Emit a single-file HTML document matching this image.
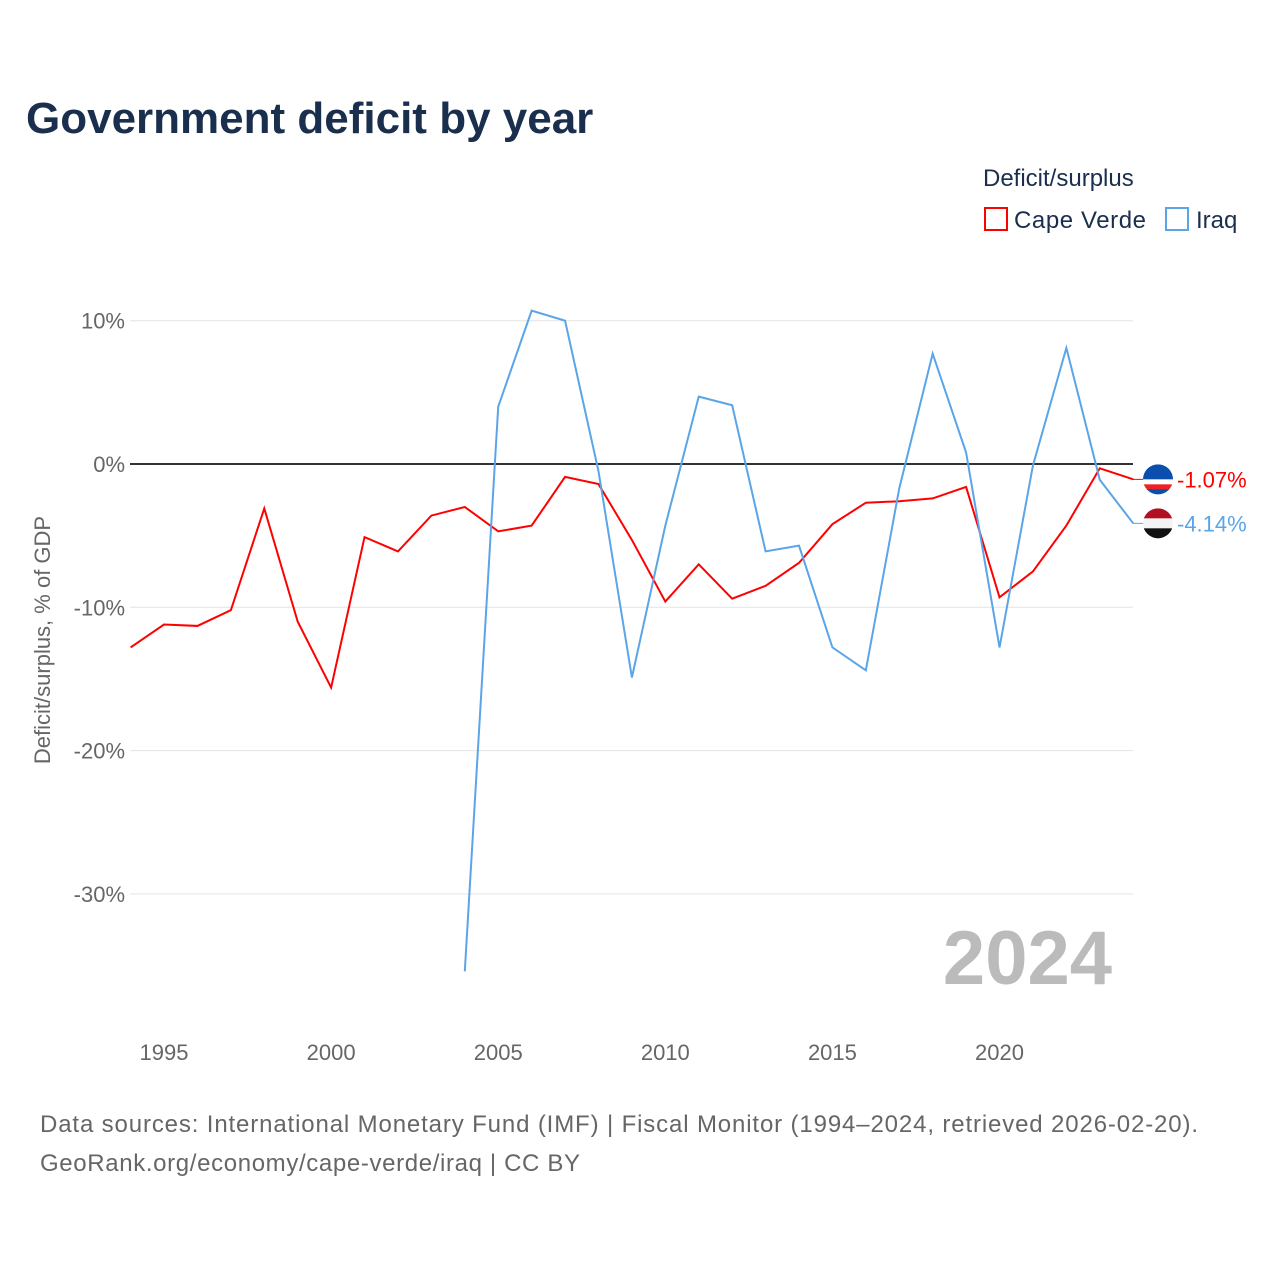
<!DOCTYPE html>
<html><head><meta charset="utf-8"><style>
body{margin:0;background:#fff;font-family:"Liberation Sans",sans-serif;}
svg text{font-family:"Liberation Sans",sans-serif;}
</style></head><body>
<svg id="c" width="1280" height="1280">
<defs id="defs"></defs>
<text x="26" y="133" font-size="44" font-weight="bold" fill="#1a2e4d">Government deficit by year</text>
<text x="983" y="186" font-size="24" fill="#1a2e4d">Deficit/surplus</text>
<g><rect x="985" y="208" width="22" height="22" fill="none" stroke="#f00" stroke-width="2"/><text x="1014" y="228" font-size="24" fill="#1a2e4d" textLength="132">Cape Verde</text></g>
<g><rect x="1166" y="208" width="22" height="22" fill="none" stroke="#5aa5e8" stroke-width="2"/><text x="1196" y="228" font-size="24" fill="#1a2e4d">Iraq</text></g>
<text transform="translate(50,640) rotate(-90)" text-anchor="middle" font-size="22" fill="#666">Deficit/surplus, % of GDP</text>
<g id="grid"></g><g id="series"></g>
<text x="1112" y="984" text-anchor="end" font-size="76" font-weight="bold" fill="#bbb">2024</text>
<text x="40" y="1132" font-size="24" fill="#666" textLength="1158">Data sources: International Monetary Fund (IMF) | Fiscal Monitor (1994–2024, retrieved 2026-02-20).</text>
<text x="40" y="1171" font-size="24" fill="#666" textLength="540">GeoRank.org/economy/cape-verde/iraq | CC BY</text>
</svg>
<script>
const years=[1994,1995,1996,1997,1998,1999,2000,2001,2002,2003,2004,2005,2006,2007,2008,2009,2010,2011,2012,2013,2014,2015,2016,2017,2018,2019,2020,2021,2022,2023,2024];
const capeVerde=[-12.8,-11.2,-11.3,-10.2,-3.1,-11.0,-15.6,-5.1,-6.1,-3.6,-3.0,-4.7,-4.3,-0.9,-1.4,-5.3,-9.6,-7.0,-9.4,-8.5,-6.9,-4.2,-2.7,-2.6,-2.4,-1.6,-9.3,-7.5,-4.3,-0.3,-1.07];
const iraqYears=[2004,2005,2006,2007,2008,2009,2010,2011,2012,2013,2014,2015,2016,2017,2018,2019,2020,2021,2022,2023,2024];
const iraq=[-35.4,4.0,10.7,10.0,-0.5,-14.9,-4.3,4.7,4.1,-6.1,-5.7,-12.8,-14.4,-1.7,7.7,0.8,-12.8,-0.1,8.1,-1.1,-4.14];
const yTicks=[10,0,-10,-20,-30];
const xTicks=[1995,2000,2005,2010,2015,2020];
const NS="http://www.w3.org/2000/svg";
const x=v=>130.6+(v-1994)*33.42;
const y=v=>464-v*14.33;
const grid=document.getElementById('grid'),ser=document.getElementById('series'),defs=document.getElementById('defs');
function mk(tag,attrs,parent,text){const e=document.createElementNS(NS,tag);for(const k in attrs)e.setAttribute(k,attrs[k]);if(text!==undefined)e.textContent=text;parent.appendChild(e);return e;}
yTicks.forEach(t=>{
 const l=mk('line',{x1:130,x2:1133,y1:y(t),y2:y(t),stroke:t===0?'#333':'#e4e4e4','stroke-width':t===0?2:1},grid);
 
 
 const tx=mk('text',{x:125,y:y(t)+8,'text-anchor':'end','font-size':22,fill:'#666'},grid,t+'%');
 
 
});
xTicks.forEach(t=>{
 const tx=mk('text',{x:x(t),y:1060,'text-anchor':'middle','font-size':22,fill:'#666'},grid,String(t));
 
 
});
function line(xs,vs,col,name){
 const p=mk('polyline',{points:xs.map((v,i)=>x(v)+','+y(vs[i])).join(' '),fill:'none',stroke:col,'stroke-width':2},ser);
 
 
}
line(years,capeVerde,'#f00','cape-verde-line');
line(iraqYears,iraq,'#5aa5e8','iraq-line');
function end(v,col,name,bands){
 const yy=y(v);
 mk('line',{x1:1133,x2:1150,y1:yy,y2:yy,stroke:col,'stroke-width':1},ser);
 const cp=mk('clipPath',{id:'clip-'+name},defs);
 mk('circle',{cx:1158,cy:yy,r:15},cp);
 const g=mk('g',{'clip-path':'url(#clip-'+name+')'},ser);
 
 
 const n=bands.length;
 bands.forEach((b,i)=>mk('rect',{x:1143,y:yy-15+i*30/n,width:30,height:30/n+0.5,fill:b},g));
 const t=mk('text',{x:1177,y:yy+8,'font-size':22,fill:col},ser,v.toFixed(2)+'%');
 
 
}
end(capeVerde[capeVerde.length-1],'#f00','cape-verde',['#0a4fae','#0a4fae','#0a4fae','#fff','#e22','#0a4fae']);
end(iraq[iraq.length-1],'#5aa5e8','iraq',['#b01020','#f4f4f4','#111']);
</script>
</body></html>
